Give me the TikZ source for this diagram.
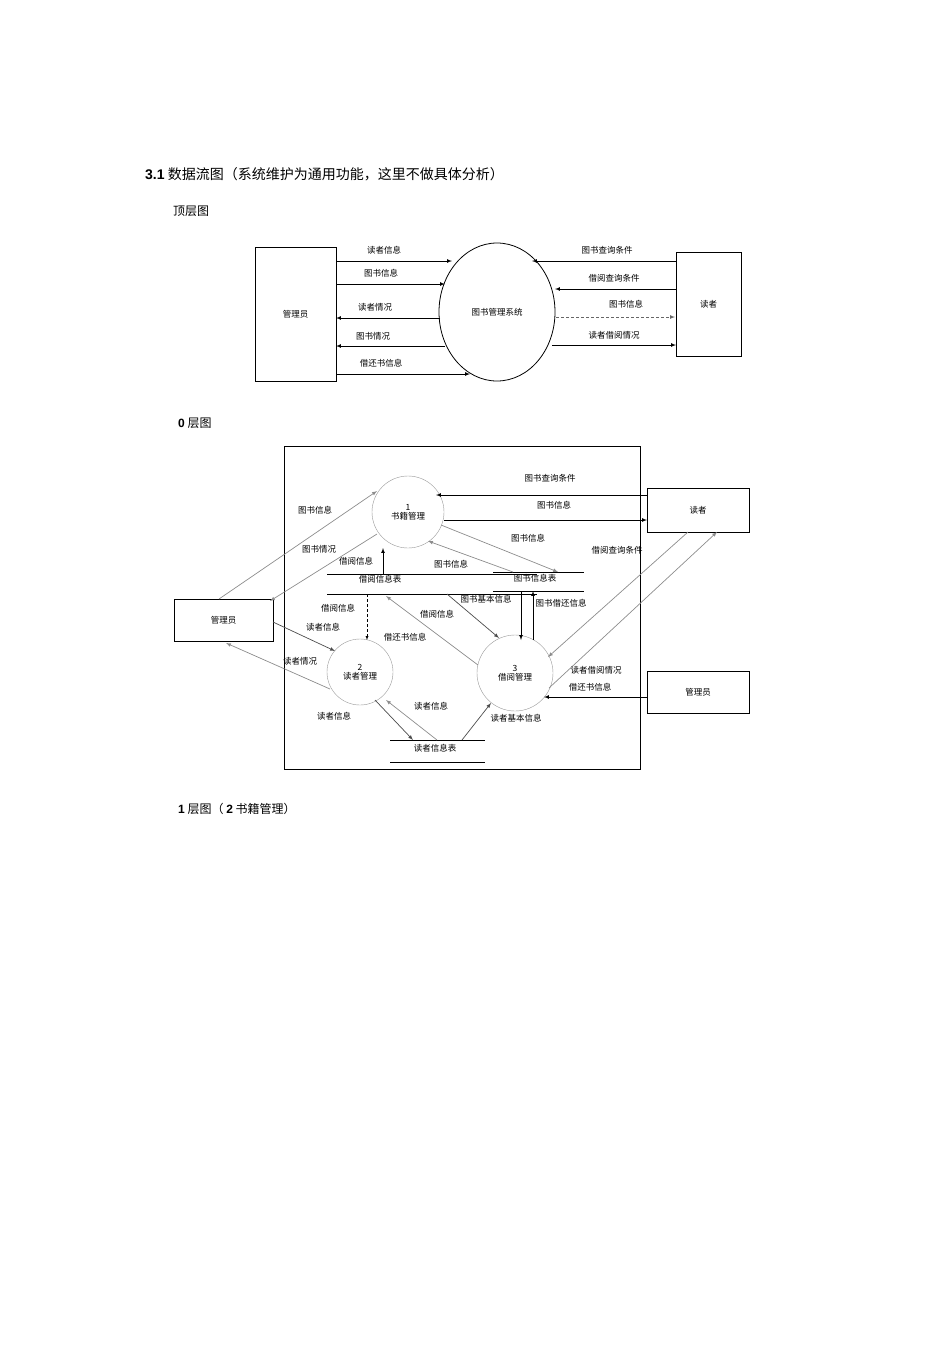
\documentclass[tikz,border=0pt]{standalone}
\usepackage{fontspec}
\usetikzlibrary{shapes.geometric}
\setmainfont{Liberation Sans}
\newfontfamily\cjk{Noto Sans CJK SC}
\begin{document}
\begin{tikzpicture}[x=1pt,y=-1pt,
 lab/.style={font=\cjk\fontsize{8.5}{9}\selectfont,inner sep=0},
 box/.style={draw,line width=0.8pt},
 ar/.style={-latex,line width=0.7pt},
 gar/.style={-latex,line width=0.7pt,draw=black!45},
 hd/.style={font=\cjk\fontsize{14}{16}\selectfont,anchor=west,inner sep=0}]
\useasboundingbox (0,0) rectangle (950,1345);
% headings
\node[hd] (h1) at (145,174) {\textbf{\fontspec{Liberation Sans}3.1} 数据流图（系统维护为通用功能，这里不做具体分析）};
\node[hd,font=\cjk\fontsize{12}{14}\selectfont] (h2) at (173,211) {顶层图};
\node[hd,font=\cjk\fontsize{12}{14}\selectfont] (h3) at (178,423) {\textbf{\fontspec{Liberation Sans}0} 层图};
\node[hd,font=\cjk\fontsize{12}{14}\selectfont] (h4) at (178,809) {\textbf{\fontspec{Liberation Sans}1} 层图（ \textbf{\fontspec{Liberation Sans}2} 书籍管理）};
% top level
\node[box,minimum width=81,minimum height=134,lab] (adm) at (295.5,314) {管理员};
\node[draw,ellipse,line width=0.8pt,minimum width=116,minimum height=138,lab] (sys) at (497,312) {图书管理系统};
\node[box,minimum width=65,minimum height=104,lab] (rd) at (708.5,304) {读者};
\coordinate (a1) at (336,261); \coordinate (b1) at (452,261);
\coordinate (a2) at (336,284); \coordinate (b2) at (445,284);
\coordinate (a3) at (336,318); \coordinate (b3) at (440,318);
\coordinate (a4) at (336,346); \coordinate (b4) at (445,346);
\coordinate (a5) at (336,374); \coordinate (b5) at (470,374);
\draw[ar] (a1) -- (b1); \draw[ar] (a2) -- (b2); \draw[ar] (b3) -- (a3); \draw[ar] (b4) -- (a4); \draw[ar] (a5) -- (b5);
\node[lab] (t1) at (384,250) {读者信息};
\node[lab] (t2) at (381,273) {图书信息};
\node[lab] (t3) at (375,307) {读者情况};
\node[lab] (t4) at (373,336) {图书情况};
\node[lab] (t5) at (381,363) {借还书信息};
\coordinate (c1) at (676,261); \coordinate (d1) at (532,261);
\coordinate (c2) at (676,289); \coordinate (d2) at (555,289);
\coordinate (c3) at (675,317); \coordinate (d3) at (556,317);
\coordinate (c4) at (676,345); \coordinate (d4) at (552,345);
\draw[ar] (c1) -- (d1); \draw[ar] (c2) -- (d2); \draw[ar,densely dashed,draw=black!60] (d3) -- (c3); \draw[ar] (d4) -- (c4);
\node[lab] (u1) at (607,250) {图书查询条件};
\node[lab] (u2) at (614,278) {借阅查询条件};
\node[lab] (u3) at (626,304) {图书信息};
\node[lab] (u4) at (614,335) {读者借阅情况};
% level 0
\draw[line width=0.8pt] (284,446) rectangle (640,769);
\node[draw=black!40,circle,minimum size=72,lab,align=center] (p1) at (408,512) {1\\书籍管理};
\node[draw=black!40,circle,minimum size=66,lab,align=center] (p2) at (360,672) {2\\读者管理};
\node[draw=black!40,circle,minimum size=76,lab,align=center] (p3) at (515,673) {3\\借阅管理};
\node[box,minimum width=102,minimum height=44,lab] (rd0) at (698,510) {读者};
\node[box,minimum width=99,minimum height=42,lab] (ad0) at (223.5,620) {管理员};
\node[box,minimum width=102,minimum height=42,lab] (ad1) at (698,692) {管理员};
% stores
\draw[line width=0.8pt] (327,574) -- (537,574) (327,594) -- (537,594);
\node[lab] (s1) at (380,579) {借阅信息表};
\draw[line width=0.8pt] (493,572) -- (584,572) (493,591) -- (584,591);
\node[lab] (s2) at (535,578) {图书信息表};
\draw[line width=0.8pt] (390,740) -- (485,740) (390,762) -- (485,762);
\node[lab] (s3) at (435,748) {读者信息表};
% flows
\coordinate (e1) at (647,495); \coordinate (f1) at (436,495);
\draw[ar] (e1) -- (f1);
\coordinate (e2) at (444,520); \coordinate (f2) at (647,520);
\draw[ar] (e2) -- (f2);
\coordinate (e3) at (441,525); \coordinate (f3) at (558,572); \draw[gar] (e3) -- (f3);
\coordinate (e4) at (513,572); \coordinate (f4) at (428,541); \draw[gar] (e4) -- (f4);
\coordinate (e5) at (383,574); \coordinate (f5) at (383,548); \draw[ar] (e5) -- (f5);
\coordinate (e6) at (219,599); \coordinate (f6) at (377,491); \draw[gar] (e6) -- (f6);
\coordinate (e7) at (377,534); \coordinate (f7) at (270,601); \draw[gar] (e7) -- (f7);
\coordinate (e8) at (367,594); \coordinate (f8) at (367,640); \draw[ar,densely dashed,line width=0.4pt] (e8) -- (f8);
\coordinate (e9) at (273,622); \coordinate (f9) at (335,651); \draw[ar,draw=black!70] (e9) -- (f9);
\coordinate (e10) at (330,689); \coordinate (f10) at (226,643); \draw[gar] (e10) -- (f10);
\coordinate (e11) at (375,700); \coordinate (f11) at (413,740); \draw[ar,draw=black!70] (e11) -- (f11);
\coordinate (e12) at (437,740); \coordinate (f12) at (386,700); \draw[gar] (e12) -- (f12);
\coordinate (e13) at (462,740); \coordinate (f13) at (491,703); \draw[ar,draw=black!70] (e13) -- (f13);
\coordinate (e14) at (447,594); \coordinate (f14) at (499,638); \draw[ar,draw=black!70] (e14) -- (f14);
\coordinate (e15) at (478,665); \coordinate (f15) at (386,596); \draw[gar] (e15) -- (f15);
\coordinate (e16) at (521,591); \coordinate (f16) at (521,640); \draw[ar] (e16) -- (f16);
\coordinate (e17) at (533,640); \coordinate (f17) at (533,591); \draw[ar] (e17) -- (f17);
\coordinate (e18) at (688,532); \coordinate (f18) at (548,657); \draw[gar] (e18) -- (f18);
\coordinate (e19) at (549,688); \coordinate (f19) at (717,532); \draw[gar] (e19) -- (f19);
\coordinate (e20) at (647,697); \coordinate (f20) at (544,697); \draw[ar] (e20) -- (f20);
% labels
\node[lab] at (550,478) {图书查询条件};
\node[lab] at (554,505) {图书信息};
\node[lab] at (528,538) {图书信息};
\node[lab] at (451,564) {图书信息};
\node[lab] at (356,561) {借阅信息};
\node[lab] at (315,510) {图书信息};
\node[lab] at (319,549) {图书情况};
\node[lab] at (338,608) {借阅信息};
\node[lab] at (323,627) {读者信息};
\node[lab] at (300,661) {读者情况};
\node[lab] at (334,716) {读者信息};
\node[lab] at (431,706) {读者信息};
\node[lab] at (516,718) {读者基本信息};
\node[lab] at (486,599) {图书基本信息};
\node[lab] at (437,614) {借阅信息};
\node[lab] at (405,637) {借还书信息};
\node[lab] at (561,603) {图书借还信息};
\node[lab] at (617,550) {借阅查询条件};
\node[lab] at (596,670) {读者借阅情况};
\node[lab] at (590,687) {借还书信息};
\end{tikzpicture}
\end{document}
